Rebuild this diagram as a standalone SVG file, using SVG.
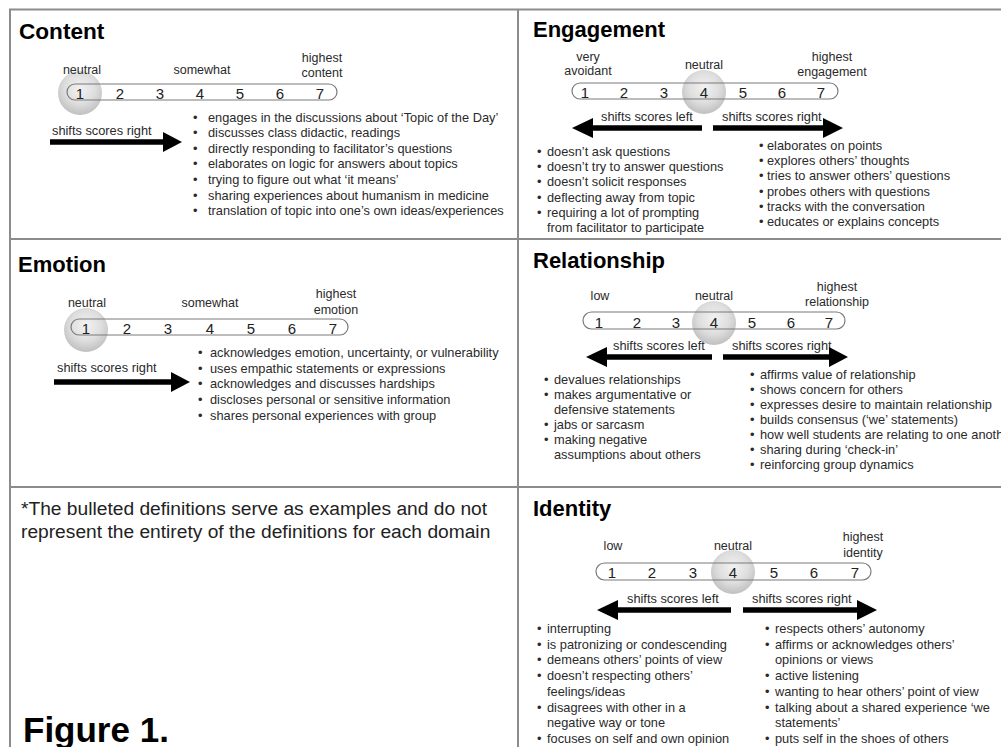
<svg xmlns="http://www.w3.org/2000/svg" width="1001" height="747" viewBox="0 0 1001 747">
<defs>
<radialGradient id="knob" cx="50%" cy="40%" r="58%">
<stop offset="0%" stop-color="#f2f2f2"/>
<stop offset="60%" stop-color="#dedede"/>
<stop offset="100%" stop-color="#c2c2c2"/>
</radialGradient>
<style>
.frame{stroke:#8c8c8c;stroke-width:2;fill:none}
.title{font-family:"Liberation Sans",Arial,sans-serif;font-weight:bold;font-size:22px;fill:#000}
.lbl{font-family:"Liberation Sans",Arial,sans-serif;font-size:12.5px;fill:#2a2a2a;text-anchor:middle}
.num{font-family:"Liberation Sans",Arial,sans-serif;font-size:15px;fill:#222;text-anchor:middle}
.txt{font-family:"Liberation Sans",Arial,sans-serif;font-size:12.8px;fill:#2a2a2a}
.pill{fill:none;stroke:#7a7a7a;stroke-width:1.2}
.knob{fill:url(#knob)}
.arrow{fill:#000}
.note{font-family:"Liberation Sans",Arial,sans-serif;font-size:19.2px;fill:#222}
.fig{font-family:"Liberation Sans",Arial,sans-serif;font-weight:bold;font-size:35px;fill:#000}
</style>
</defs>
<rect width="1001" height="747" fill="#fff"/>
<g id="grid" class="frame">
<path d="M10 760 V9.5 H1010"/>
<path d="M518 9.5 V760"/>
<path d="M10 239 H1010"/>
<path d="M10 487 H1010"/>
</g>

<g id="content">
<text class="title" x="19" y="39" style="font-size:22.6px">Content</text>
<circle class="knob" cx="80" cy="93" r="22"/>
<rect class="pill" x="67" y="84" width="270" height="16" rx="8"/>
<g class="num">
<text x="80" y="98.5">1</text><text x="120" y="98.5">2</text><text x="160" y="98.5">3</text><text x="200" y="98.5">4</text><text x="240" y="98.5">5</text><text x="280" y="98.5">6</text><text x="320" y="98.5">7</text>
</g>
<text class="lbl" x="82" y="74">neutral</text>
<text class="lbl" x="202" y="74">somewhat</text>
<text class="lbl" x="322" y="62">highest</text>
<text class="lbl" x="322" y="77">content</text>
<text class="txt" x="52" y="135">shifts scores right</text>
<path class="arrow" d="M50 139.2 H163 V132 L182 142 L163 152 V144.8 H50 Z"/>
<g class="txt">
<text y="121.5"><tspan x="193">•</tspan><tspan x="208">engages in the discussions about ‘Topic of the Day’</tspan></text>
<text y="137.1"><tspan x="193">•</tspan><tspan x="208">discusses class didactic, readings</tspan></text>
<text y="152.7"><tspan x="193">•</tspan><tspan x="208">directly responding to facilitator’s questions</tspan></text>
<text y="168.3"><tspan x="193">•</tspan><tspan x="208">elaborates on logic for answers about topics</tspan></text>
<text y="183.9"><tspan x="193">•</tspan><tspan x="208">trying to figure out what ‘it means’</tspan></text>
<text y="199.5"><tspan x="193">•</tspan><tspan x="208">sharing experiences about humanism in medicine</tspan></text>
<text y="215.1"><tspan x="193">•</tspan><tspan x="208">translation of topic into one’s own ideas/experiences</tspan></text>
</g>
</g>

<g id="engagement">
<text class="title" x="533" y="37">Engagement</text>
<circle class="knob" cx="704" cy="92" r="22"/>
<rect class="pill" x="572" y="83" width="266" height="16" rx="8"/>
<g class="num">
<text x="585" y="97.5">1</text><text x="624" y="97.5">2</text><text x="664" y="97.5">3</text><text x="704" y="97.5">4</text><text x="743" y="97.5">5</text><text x="782" y="97.5">6</text><text x="821" y="97.5">7</text>
</g>
<text class="lbl" x="588" y="61">very</text>
<text class="lbl" x="588" y="75">avoidant</text>
<text class="lbl" x="704" y="69">neutral</text>
<text class="lbl" x="832" y="61">highest</text>
<text class="lbl" x="832" y="76">engagement</text>
<text class="txt" x="601" y="121">shifts scores left</text>
<path class="arrow" d="M702 125.2 H593 V118 L572 128 L593 138 V130.8 H702 Z"/>
<text class="txt" x="722" y="121">shifts scores right</text>
<path class="arrow" d="M713 125.2 H823 V118 L843 128 L823 138 V130.8 H713 Z"/>
<g class="txt">
<text y="156"><tspan x="537">•</tspan><tspan x="547">doesn’t ask questions</tspan></text>
<text y="171.2"><tspan x="537">•</tspan><tspan x="547">doesn’t try to answer questions</tspan></text>
<text y="186.4"><tspan x="537">•</tspan><tspan x="547">doesn’t solicit responses</tspan></text>
<text y="201.6"><tspan x="537">•</tspan><tspan x="547">deflecting away from topic</tspan></text>
<text y="216.8"><tspan x="537">•</tspan><tspan x="547">requiring a lot of prompting</tspan></text>
<text y="232" x="547">from facilitator to participate</text>
<text y="150"><tspan x="759">•</tspan><tspan x="767">elaborates on points</tspan></text>
<text y="165.2"><tspan x="759">•</tspan><tspan x="767">explores others’ thoughts</tspan></text>
<text y="180.4"><tspan x="759">•</tspan><tspan x="767">tries to answer others’ questions</tspan></text>
<text y="195.6"><tspan x="759">•</tspan><tspan x="767">probes others with questions</tspan></text>
<text y="210.8"><tspan x="759">•</tspan><tspan x="767">tracks with the conversation</tspan></text>
<text y="226"><tspan x="759">•</tspan><tspan x="767">educates or explains concepts</tspan></text>
</g>
</g>

<g id="emotion">
<text class="title" x="18" y="272">Emotion</text>
<circle class="knob" cx="86" cy="330" r="22"/>
<rect class="pill" x="71" y="319" width="277" height="16" rx="8"/>
<g class="num">
<text x="86" y="333.5">1</text><text x="127" y="333.5">2</text><text x="168" y="333.5">3</text><text x="210" y="333.5">4</text><text x="251" y="333.5">5</text><text x="292" y="333.5">6</text><text x="333" y="333.5">7</text>
</g>
<text class="lbl" x="87" y="307">neutral</text>
<text class="lbl" x="210" y="307">somewhat</text>
<text class="lbl" x="336" y="298">highest</text>
<text class="lbl" x="336" y="314">emotion</text>
<text class="txt" x="57" y="372">shifts scores right</text>
<path class="arrow" d="M54 379.2 H171 V372 L190 382 L171 392 V384.8 H54 Z"/>
<g class="txt">
<text y="357"><tspan x="198">•</tspan><tspan x="210">acknowledges emotion, uncertainty, or vulnerability</tspan></text>
<text y="372.7"><tspan x="198">•</tspan><tspan x="210">uses empathic statements or expressions</tspan></text>
<text y="388.4"><tspan x="198">•</tspan><tspan x="210">acknowledges and discusses hardships</tspan></text>
<text y="404.1"><tspan x="198">•</tspan><tspan x="210">discloses personal or sensitive information</tspan></text>
<text y="419.8"><tspan x="198">•</tspan><tspan x="210">shares personal experiences with group</tspan></text>
</g>
</g>

<g id="relationship">
<text class="title" x="533" y="268">Relationship</text>
<circle class="knob" cx="714" cy="323" r="22"/>
<rect class="pill" x="583" y="312" width="262" height="17" rx="8.5"/>
<g class="num">
<text x="599" y="327.5">1</text><text x="637" y="327.5">2</text><text x="676" y="327.5">3</text><text x="714" y="327.5">4</text><text x="752" y="327.5">5</text><text x="791" y="327.5">6</text><text x="829" y="327.5">7</text>
</g>
<text class="lbl" x="600" y="300">low</text>
<text class="lbl" x="714" y="300">neutral</text>
<text class="lbl" x="837" y="291">highest</text>
<text class="lbl" x="837" y="306">relationship</text>
<text class="txt" x="613" y="350">shifts scores left</text>
<path class="arrow" d="M712 354.2 H607 V347 L586 357 L607 367 V359.8 H712 Z"/>
<text class="txt" x="732" y="350">shifts scores right</text>
<path class="arrow" d="M723 354.2 H829 V347 L848 357 L829 367 V359.8 H723 Z"/>
<g class="txt">
<text y="384"><tspan x="544">•</tspan><tspan x="554">devalues relationships</tspan></text>
<text y="398.9"><tspan x="544">•</tspan><tspan x="554">makes argumentative or</tspan></text>
<text y="413.8" x="554">defensive statements</text>
<text y="428.7"><tspan x="544">•</tspan><tspan x="554">jabs or sarcasm</tspan></text>
<text y="443.6"><tspan x="544">•</tspan><tspan x="554">making negative</tspan></text>
<text y="458.5" x="554">assumptions about others</text>
<text y="379"><tspan x="750">•</tspan><tspan x="760">affirms value of relationship</tspan></text>
<text y="394"><tspan x="750">•</tspan><tspan x="760">shows concern for others</tspan></text>
<text y="409"><tspan x="750">•</tspan><tspan x="760">expresses desire to maintain relationship</tspan></text>
<text y="424"><tspan x="750">•</tspan><tspan x="760">builds consensus (‘we’ statements)</tspan></text>
<text y="439"><tspan x="750">•</tspan><tspan x="760">how well students are relating to one another</tspan></text>
<text y="454"><tspan x="750">•</tspan><tspan x="760">sharing during ‘check-in’</tspan></text>
<text y="469"><tspan x="750">•</tspan><tspan x="760">reinforcing group dynamics</tspan></text>
</g>
</g>

<g id="note">
<text class="note" x="21" y="515">*The bulleted definitions serve as examples and do not</text>
<text class="note" x="21" y="538">represent the entirety of the definitions for each domain</text>
<text class="fig" x="23" y="742">Figure 1.</text>
</g>

<g id="identity">
<text class="title" x="533" y="516">Identity</text>
<circle class="knob" cx="733" cy="572" r="22"/>
<rect class="pill" x="596" y="563" width="275" height="17" rx="8.5"/>
<g class="num">
<text x="612" y="578">1</text><text x="652" y="578">2</text><text x="693" y="578">3</text><text x="733" y="578">4</text><text x="774" y="578">5</text><text x="814" y="578">6</text><text x="855" y="578">7</text>
</g>
<text class="lbl" x="613" y="550">low</text>
<text class="lbl" x="733" y="550">neutral</text>
<text class="lbl" x="863" y="541">highest</text>
<text class="lbl" x="863" y="557">identity</text>
<text class="txt" x="627" y="603">shifts scores left</text>
<path class="arrow" d="M731 607.2 H618 V600 L597 610 L618 620 V612.8 H731 Z"/>
<text class="txt" x="752" y="603">shifts scores right</text>
<path class="arrow" d="M743 607.2 H857 V600 L877 610 L857 620 V612.8 H743 Z"/>
<g class="txt">
<text y="633"><tspan x="537">•</tspan><tspan x="547">interrupting</tspan></text>
<text y="648.7"><tspan x="537">•</tspan><tspan x="547">is patronizing or condescending</tspan></text>
<text y="664.4"><tspan x="537">•</tspan><tspan x="547">demeans others’ points of view</tspan></text>
<text y="680.1"><tspan x="537">•</tspan><tspan x="547">doesn’t respecting others’</tspan></text>
<text y="695.8" x="547">feelings/ideas</text>
<text y="711.5"><tspan x="537">•</tspan><tspan x="547">disagrees with other in a</tspan></text>
<text y="727.2" x="547">negative way or tone</text>
<text y="742.9"><tspan x="537">•</tspan><tspan x="547">focuses on self and own opinion</tspan></text>
<text y="633"><tspan x="765">•</tspan><tspan x="775">respects others’ autonomy</tspan></text>
<text y="648.7"><tspan x="765">•</tspan><tspan x="775">affirms or acknowledges others’</tspan></text>
<text y="664.4" x="775">opinions or views</text>
<text y="680.1"><tspan x="765">•</tspan><tspan x="775">active listening</tspan></text>
<text y="695.8"><tspan x="765">•</tspan><tspan x="775">wanting to hear others’ point of view</tspan></text>
<text y="711.5"><tspan x="765">•</tspan><tspan x="775">talking about a shared experience ‘we</tspan></text>
<text y="727.2" x="775">statements’</text>
<text y="742.9"><tspan x="765">•</tspan><tspan x="775">puts self in the shoes of others</tspan></text>
</g>
</g>
</svg>
